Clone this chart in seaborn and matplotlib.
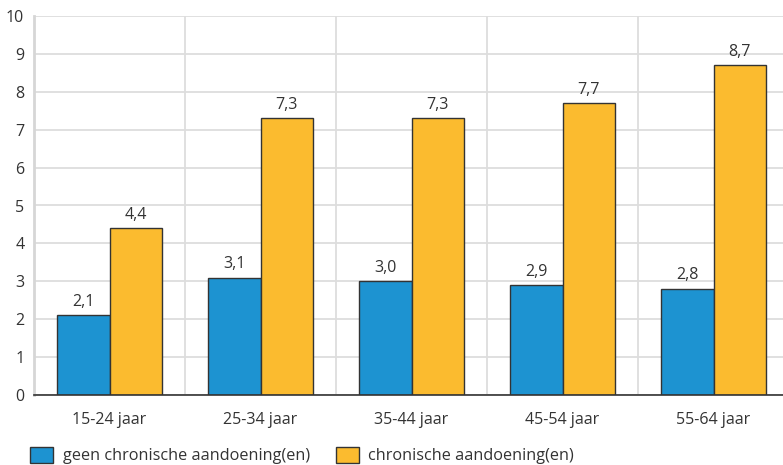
import matplotlib
matplotlib.use("Agg")
import matplotlib.pyplot as plt
import seaborn as sns
import pandas as pd
import numpy as np
from matplotlib.patches import Patch

categories = ["15-24 jaar", "25-34 jaar", "35-44 jaar", "45-54 jaar", "55-64 jaar"]
series_names = ["geen chronische aandoening(en)", "chronische aandoening(en)"]
geen = [2.1, 3.1, 3.0, 2.9, 2.8]
chronisch = [4.4, 7.3, 7.3, 7.7, 8.7]
colors = ["#1d93d1", "#fbbb2f"]

df = pd.DataFrame({
    "cat": categories * 2,
    "serie": [series_names[0]] * 5 + [series_names[1]] * 5,
    "val": geen + chronisch,
})

sns.set_theme(style="white")
plt.rcParams["font.family"] = ["Open Sans", "DejaVu Sans"]

fig = plt.figure(figsize=(7.83, 4.65), dpi=100)
ax = fig.add_axes([34 / 783, 1 - 395 / 465, 755 / 783, (395 - 16) / 465])

sns.barplot(data=df, x="cat", y="val", hue="serie", palette=colors,
            width=0.69, edgecolor="#333333", linewidth=1.0, ax=ax,
            legend=False, saturation=1)

ax.set_xlim(-0.5, 4.5)
ax.set_ylim(0, 10)
ax.set_yticks(range(0, 11))
ax.set_xticks(np.arange(0.5, 4.5, 1), minor=True)
ax.grid(True, which="major", axis="y", color="#dddddd", linewidth=1.3)
ax.grid(True, which="minor", axis="x", color="#dddddd", linewidth=1.3)
ax.set_axisbelow(True)
ax.tick_params(axis="x", which="minor", length=0)
ax.tick_params(axis="x", which="major", length=6, width=1, color="#333333",
               direction="out", labelsize=11.5, labelcolor="#333333", pad=6)
ax.tick_params(axis="y", length=0, labelsize=11.5, labelcolor="#333333", pad=7)
ax.set_xlabel("")
ax.set_ylabel("")
for s in ["top", "right"]:
    ax.spines[s].set_visible(False)
ax.spines["left"].set_color("#d6d6d6")
ax.spines["left"].set_linewidth(2)
ax.spines["bottom"].set_color("#333333")
ax.spines["bottom"].set_linewidth(1.2)

for cont in ax.containers:
    ax.bar_label(cont, labels=[f"{v:.1f}".replace(".", ",") for v in cont.datavalues],
                 padding=4, fontsize=11.5, color="#333333")

handles = [Patch(facecolor=c, edgecolor="#333333", linewidth=1.0) for c in colors]
fig.legend(handles, series_names, loc="lower left", bbox_to_anchor=(0.02, -0.03),
           ncol=2, frameon=False, fontsize=11.7, handlelength=1.4, handleheight=1.1,
           handletextpad=0.6, columnspacing=1.6, labelcolor="#333333")

fig.savefig("out.png", dpi=100)
